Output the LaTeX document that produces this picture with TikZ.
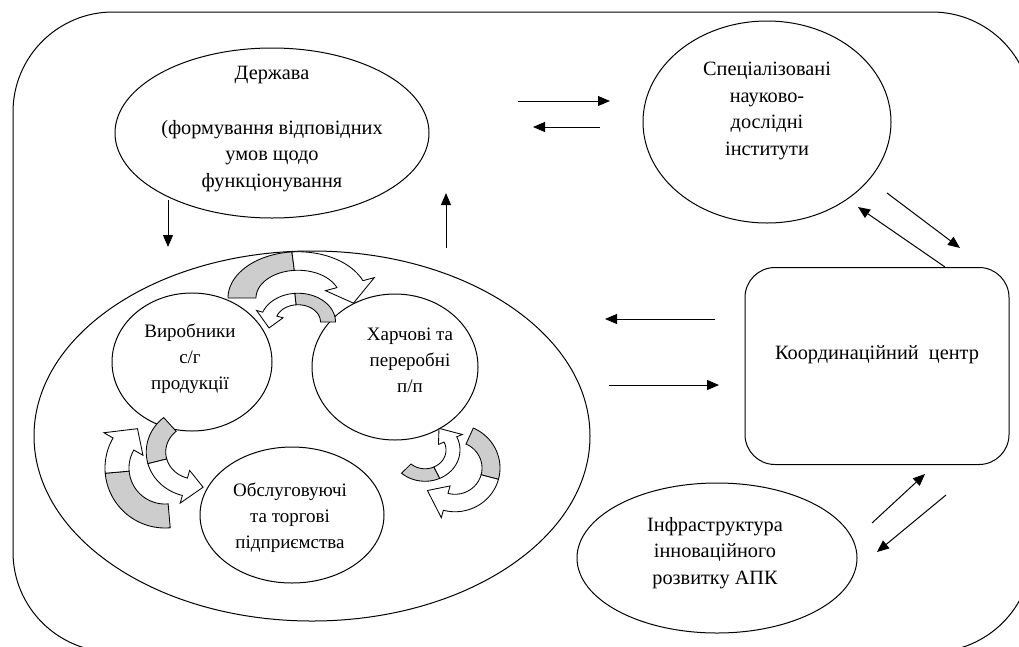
\documentclass[tikz,border=0pt]{standalone}
\usepackage{fontspec}
\setmainfont{Liberation Serif}
\usetikzlibrary{shapes.geometric,arrows.meta}
\definecolor{cycgray}{RGB}{205,205,205}
\newcommand\cycarrow[4]{%
  \filldraw[fill=cycgray] plot[domain=#1:#2,samples=30] ({1.25*cos(\x)},{1.25*sin(\x)}) -- plot[domain=#2:#1,samples=30] ({0.75*cos(\x)},{0.75*sin(\x)}) -- cycle;
  \filldraw[fill=white] plot[domain=#2:#3,samples=30] ({1.25*cos(\x)},{1.25*sin(\x)}) -- (#3:1.47) -- (#4:1) -- (#3:0.53) -- plot[domain=#3:#2,samples=30] ({0.75*cos(\x)},{0.75*sin(\x)}) -- cycle;}
\begin{document}
\begin{tikzpicture}[x=1pt,y=-1pt,line width=1pt,
  ell/.style={ellipse,draw,inner sep=0pt,outer sep=0pt},
  txt/.style={align=center,inner sep=0pt,font=\fontsize{20.3}{26.5}\selectfont},
  stxt/.style={align=center,inner sep=0pt,font=\fontsize{19}{26}\selectfont},
  arr/.style={-{Triangle[length=12pt,width=10pt]}},
  cyc/.style={line width=0.85pt}]
\useasboundingbox (0,0) rectangle (1019,646);
\clip (0,0) rectangle (1019,646);
% outer frame
\draw[rounded corners=100pt] (13,12) rectangle (1032,652);
% main nodes
\node[ell,minimum width=314pt,minimum height=170pt] (state) at (272,133) {};
\node[txt] (statet) at (272,129) {Держава\\[28pt](формування відповідних\\умов щодо\\функціонування};
\node[ell,minimum width=248pt,minimum height=202pt] (inst) at (767,122) {};
\node[txt] (instt) at (767,111) {Спеціалізовані\\науково-\\дослідні\\інститути};
\node[draw,rounded corners=30pt,minimum width=264pt,minimum height=197pt,inner sep=0pt] (cc) at (877,366) {};
\node[txt] (cct) at (877,355) {Координаційний~ центр};
\node[ell,minimum width=280pt,minimum height=150pt] (infra) at (717,558) {};
\node[txt] (infrat) at (715,553) {Інфраструктура\\інноваційного\\розвитку АПК};
\node[ell,minimum width=556pt,minimum height=370pt] (cluster) at (312,436) {};
\node[ell,minimum width=160pt,minimum height=138pt] (prod) at (192,362) {};
\node[stxt] (prodt) at (190,359) {Виробники\\с/г\\продукції};
\node[ell,minimum width=166pt,minimum height=146pt] (food) at (395,367) {};
\node[stxt] (foodt) at (410,360) {Харчові та\\переробні\\п/п};
\node[ell,minimum width=184pt,minimum height=136pt] (serv) at (292,515) {};
\node[stxt] (servt) at (290,518) {Обслуговуючі\\та торгові\\підприємства};
% arrow end points
\coordinate (a1s) at (518,101); \coordinate (a1e) at (610,101);
\coordinate (a2s) at (600,127); \coordinate (a2e) at (533,127);
\coordinate (a3s) at (715,319); \coordinate (a3e) at (605,319);
\coordinate (a4s) at (609,385); \coordinate (a4e) at (719,385);
\coordinate (a5s) at (887,193); \coordinate (a5e) at (960,248);
\coordinate (a6s) at (945,267); \coordinate (a6e) at (858,207);
\coordinate (a7s) at (872,523); \coordinate (a7e) at (925,474);
\coordinate (a8s) at (946,495); \coordinate (a8e) at (877,552);
\coordinate (a9s) at (168,200); \coordinate (a9e) at (168,247);
\coordinate (a10s) at (446,248); \coordinate (a10e) at (446,193);
\foreach \s/\e in {a1s/a1e,a2s/a2e,a3s/a3e,a4s/a4e,a5s/a5e,a6s/a6e,a7s/a7e,a8s/a8e,a9s/a9e,a10s/a10e}
  \draw[arr] (\s) -- (\e);
% cycle arrows
\begin{scope}[shift={(298,298)},xscale=56,yscale=-37,cyc] \cycarrow{180}{95}{22}{-8} \end{scope}
\begin{scope}[shift={(298,322)},xscale=30,yscale=-23,cyc] \cycarrow{0}{95}{160}{195} \end{scope}
\begin{scope}[shift={(165,468)},xscale=48,yscale=-48,cyc] \cycarrow{-85}{-175}{-210}{-235} \end{scope}
\begin{scope}[shift={(195,452)},xscale=39,yscale=-36,cyc] \cycarrow{130}{195}{255}{282} \end{scope}
\begin{scope}[shift={(425,450)},xscale=28,yscale=-25,cyc] \cycarrow{228}{295}{385}{420} \end{scope}
\begin{scope}[shift={(455,468)},xscale=36,yscale=-35,cyc] \cycarrow{66}{-15}{-105}{-140} \end{scope}
\end{tikzpicture}
\end{document}
